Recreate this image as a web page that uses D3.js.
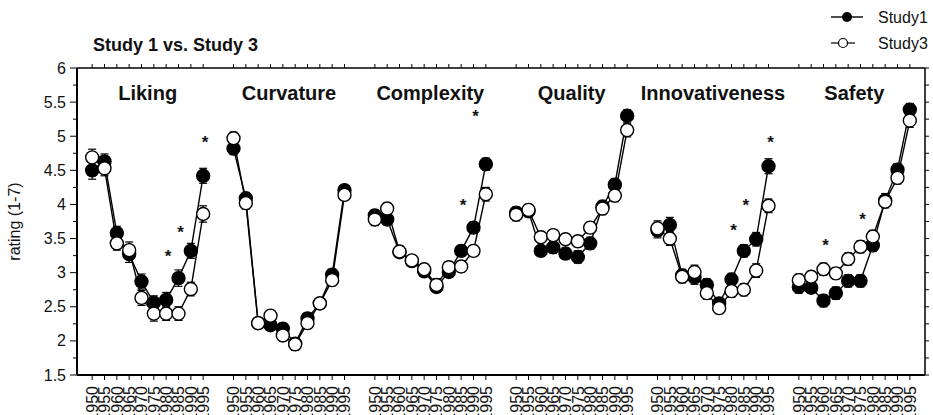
<!DOCTYPE html>
<html>
<head>
<meta charset="utf-8">
<script src="https://cdn.jsdelivr.net/npm/d3@7"></script>
<style>
  body { margin: 0; background: #fff; }
  text { font-family: "Liberation Sans", Arial, sans-serif; fill: #111; }
</style>
</head>
<body>
<div id="chart"></div>
<script>
// ratings per decade-year, one row per attribute
const years = [1950, 1955, 1960, 1965, 1970, 1975, 1980, 1985, 1990, 1995];
const panels = ["Liking", "Curvature", "Complexity", "Quality", "Innovativeness", "Safety"];

const study1 = [
    [4.50, 4.63, 3.58, 3.27, 2.87, 2.56, 2.60, 2.92, 3.32, 4.42],
    [4.82, 4.09, 2.26, 2.23, 2.18, 1.96, 2.33, 2.55, 2.97, 4.21],
    [3.84, 3.78, 3.30, 3.17, 3.02, 2.79, 3.01, 3.32, 3.66, 4.59],
    [3.88, 3.90, 3.32, 3.37, 3.28, 3.23, 3.43, 3.97, 4.29, 5.30],
    [3.62, 3.70, 2.96, 2.93, 2.82, 2.55, 2.90, 3.32, 3.49, 4.56],
    [2.79, 2.78, 2.59, 2.70, 2.88, 2.88, 3.40, 4.06, 4.51, 5.39]
];
const study3 = [
    [4.69, 4.53, 3.43, 3.33, 2.63, 2.40, 2.40, 2.40, 2.76, 3.86],
    [4.97, 4.02, 2.26, 2.37, 2.08, 1.95, 2.26, 2.55, 2.89, 4.14],
    [3.78, 3.94, 3.31, 3.18, 3.05, 2.82, 3.08, 3.09, 3.32, 4.15],
    [3.85, 3.92, 3.52, 3.55, 3.49, 3.46, 3.66, 3.94, 4.13, 5.09],
    [3.65, 3.50, 2.94, 3.01, 2.70, 2.48, 2.73, 2.75, 3.03, 3.98],
    [2.89, 2.94, 3.05, 2.99, 3.20, 3.38, 3.53, 4.04, 4.39, 5.23]
];
// standard errors
const study1Err = [
    [0.13, 0.11, 0.10, 0.12, 0.11, 0.10, 0.11, 0.12, 0.11, 0.11],
    [0.09, 0.08, 0.07, 0.07, 0.08, 0.08, 0.08, 0.07, 0.08, 0.07],
    [0.08, 0.08, 0.07, 0.07, 0.07, 0.08, 0.07, 0.08, 0.08, 0.09],
    [0.08, 0.08, 0.08, 0.08, 0.08, 0.09, 0.09, 0.08, 0.09, 0.09],
    [0.11, 0.11, 0.09, 0.10, 0.09, 0.08, 0.09, 0.09, 0.10, 0.11],
    [0.09, 0.08, 0.09, 0.09, 0.09, 0.09, 0.09, 0.10, 0.09, 0.09]
];
const study3Err = [
    [0.12, 0.11, 0.10, 0.12, 0.11, 0.11, 0.10, 0.10, 0.10, 0.12],
    [0.09, 0.09, 0.07, 0.07, 0.08, 0.09, 0.08, 0.07, 0.08, 0.08],
    [0.09, 0.08, 0.08, 0.07, 0.08, 0.09, 0.08, 0.08, 0.08, 0.10],
    [0.09, 0.08, 0.08, 0.08, 0.08, 0.08, 0.08, 0.09, 0.09, 0.10],
    [0.11, 0.10, 0.09, 0.10, 0.09, 0.08, 0.09, 0.09, 0.10, 0.10],
    [0.09, 0.08, 0.09, 0.08, 0.09, 0.09, 0.09, 0.09, 0.09, 0.10]
];
// significance markers: panel index, year, rating level
const starPanel = [0, 0, 0, 2, 2, 4, 4, 4, 5, 5];
const starYear = [1980, 1985, 1995, 1985, 1990, 1980, 1985, 1995, 1960, 1975];
const starValue = [3.29, 3.65, 4.97, 4.04, 5.34, 3.67, 4.04, 4.97, 3.45, 3.83];

const yTicks = [1.5, 2, 2.5, 3, 3.5, 4, 4.5, 5, 5.5, 6];
const seriesNames = ["Study1", "Study3"];

class PanelChart {

    constructor(parentElement){
        this.parentElement = parentElement
        this.initVis()
    }

    initVis(){
        let vis = this

        vis.margin = {top: 68, right: 8, bottom: 40, left: 77};
        vis.width = 933 - vis.margin.left - vis.margin.right;
        vis.height = 415 - vis.margin.top - vis.margin.bottom;

        vis.root = d3.select("#" + vis.parentElement).append("svg")
            .attr("width", 933)
            .attr("height", 415);
        vis.svg = vis.root.append("g")
            .attr("transform", "translate(" + vis.margin.left + "," + vis.margin.top + ")");

        // scales: one band per attribute, points for years inside it
        vis.xGroup = d3.scaleBand().domain(panels).range([0, vis.width]);
        vis.xYear = d3.scalePoint().domain(years)
            .range([0, vis.xGroup.bandwidth()]).padding(1.23);
        vis.yScale = d3.scaleLinear().domain([1.5, 6]).range([vis.height, 0]);

        vis.x = (p, yr) => vis.xGroup(p) + vis.xYear(yr);

        vis.drawAxes()
        vis.drawData()
        vis.drawText()
    }

    drawAxes(){
        let vis = this
        let minor = d3.range(1.5, 6.01, 0.25);

        // left axis
        let left = vis.svg.append("g").attr("class", "axis y-axis");
        left.append("line").attr("x1", 0).attr("x2", 0).attr("y1", 0).attr("y2", vis.height)
            .attr("stroke", "#000").attr("stroke-width", 2);
        left.selectAll(".minor").data(minor).join("line")
            .attr("x1", d => (d * 2) % 1 === 0 ? -7 : -4).attr("x2", 0)
            .attr("y1", d => vis.yScale(d)).attr("y2", d => vis.yScale(d))
            .attr("stroke", "#000").attr("stroke-width", 1);
        left.selectAll(".lab").data(yTicks).join("text")
            .attr("x", -11).attr("y", d => vis.yScale(d))
            .attr("dy", "0.35em")
            .attr("text-anchor", "end")
            .style("font-size", "16px")
            .text(d => d);

        // right axis
        let right = vis.svg.append("g").attr("class", "axis y-axis-right");
        right.append("line").attr("x1", vis.width).attr("x2", vis.width).attr("y1", 0).attr("y2", vis.height)
            .attr("stroke", "#000").attr("stroke-width", 1.5);
        right.selectAll("line.t").data(minor).join("line").attr("class", "t")
            .attr("x1", vis.width).attr("x2", vis.width + 4)
            .attr("y1", d => vis.yScale(d)).attr("y2", d => vis.yScale(d))
            .attr("stroke", "#000").attr("stroke-width", 1);

        // top and bottom lines
        vis.svg.append("line").attr("x1", 0).attr("x2", vis.width).attr("y1", 0).attr("y2", 0)
            .attr("stroke", "#000").attr("stroke-width", 1.5);
        vis.svg.append("line").attr("x1", 0).attr("x2", vis.width).attr("y1", vis.height).attr("y2", vis.height)
            .attr("stroke", "#000").attr("stroke-width", 2);

        panels.forEach(p => {
            let gx = vis.svg.append("g")
                .attr("class", "axis x-axis")
                .attr("transform", `translate(${vis.xGroup(p)},0)`);

            gx.selectAll("line.top").data(years).join("line").attr("class", "top")
                .attr("x1", d => vis.xYear(d)).attr("x2", d => vis.xYear(d))
                .attr("y1", 0).attr("y2", -4)
                .attr("stroke", "#000").attr("stroke-width", 1);
            gx.selectAll("line.bot").data(years).join("line").attr("class", "bot")
                .attr("x1", d => vis.xYear(d)).attr("x2", d => vis.xYear(d))
                .attr("y1", vis.height).attr("y2", vis.height + 5)
                .attr("stroke", "#000").attr("stroke-width", 1);
            gx.selectAll("text").data(years).join("text")
                .attr("transform", d => `translate(${vis.xYear(d)},${vis.height + 11}) rotate(-90)`)
                .attr("dy", "0.36em")
                .attr("text-anchor", "end")
                .style("font-size", "16px")
                .text(d => d);
        });
    }

    drawData(){
        let vis = this
        let line = d3.line().x(d => vis.x(d.panel, d.year)).y(d => vis.yScale(d.value));

        [study1, study3].forEach((series, s) => {
            let errs = s === 0 ? study1Err : study3Err;
            let g = vis.svg.append("g").attr("class", "series " + seriesNames[s]);

            panels.forEach((p, i) => {
                let rows = years.map((yr, j) => ({panel: p, year: yr, value: series[i][j], err: errs[i][j]}));

                g.append("path").datum(rows)
                    .attr("d", line)
                    .attr("fill", "none")
                    .attr("stroke", "#000")
                    .attr("stroke-width", 1.4);

                let eb = g.append("g").selectAll("g").data(rows).join("g");
                eb.append("line")
                    .attr("x1", d => vis.x(d.panel, d.year)).attr("x2", d => vis.x(d.panel, d.year))
                    .attr("y1", d => vis.yScale(d.value - d.err)).attr("y2", d => vis.yScale(d.value + d.err))
                    .attr("stroke", "#000").attr("stroke-width", 1.2);
                [-1, 1].forEach(sign => {
                    eb.append("line")
                        .attr("x1", d => vis.x(d.panel, d.year) - 4).attr("x2", d => vis.x(d.panel, d.year) + 4)
                        .attr("y1", d => vis.yScale(d.value + sign * d.err))
                        .attr("y2", d => vis.yScale(d.value + sign * d.err))
                        .attr("stroke", "#000").attr("stroke-width", 1.2);
                });

                g.append("g").selectAll("circle").data(rows).join("circle")
                    .attr("cx", d => vis.x(d.panel, d.year))
                    .attr("cy", d => vis.yScale(d.value))
                    .attr("r", 6.5)
                    .attr("fill", s === 0 ? "#000" : "#fff")
                    .attr("stroke", "#000")
                    .attr("stroke-width", 1.4);
            });
        });

        // significance stars
        vis.svg.append("g").selectAll("text").data(starYear).join("text")
            .attr("x", (d, i) => vis.x(panels[starPanel[i]], d) + 2)
            .attr("y", (d, i) => vis.yScale(starValue[i]))
            .attr("dy", "0.55em")
            .attr("text-anchor", "middle")
            .style("font-size", "17px")
            .style("font-weight", "bold")
            .text("*");
    }

    drawText(){
        let vis = this

        // panel titles
        vis.svg.selectAll(".panel-title").data(panels).join("text")
            .attr("class", "panel-title")
            .attr("x", d => vis.xGroup(d) + vis.xGroup.bandwidth() / 2)
            .attr("y", 32)
            .attr("text-anchor", "middle")
            .style("font-size", "20px")
            .style("font-weight", "bold")
            .text(d => d);

        // chart title
        vis.root.append("text")
            .attr("x", 93).attr("y", 51)
            .style("font-size", "18px")
            .style("font-weight", "bold")
            .text("Study 1 vs. Study 3");

        // y label
        vis.root.append("text")
            .attr("transform", `translate(20,${vis.margin.top + vis.height / 2}) rotate(-90)`)
            .attr("text-anchor", "middle")
            .style("font-size", "16px")
            .text("rating (1-7)");

        // legend
        let legY = [17, 43];
        let leg = vis.root.append("g").attr("class", "legend");
        seriesNames.forEach((name, s) => {
            let row = leg.append("g").attr("transform", `translate(0,${legY[s]})`);
            if (s === 0) {
                row.append("line").attr("x1", 831).attr("x2", 863).attr("stroke", "#000").attr("stroke-width", 1.4);
                row.append("circle").attr("cx", 847).attr("r", 5).attr("fill", "#000");
            } else {
                row.append("line").attr("x1", 831).attr("x2", 855).attr("stroke", "#000").attr("stroke-width", 1.2);
                row.append("circle").attr("cx", 843).attr("r", 4.5).attr("fill", "#fff")
                    .attr("stroke", "#000").attr("stroke-width", 1.2);
            }
            row.append("text").attr("x", 878).attr("dy", "0.35em")
                .style("font-size", "16px")
                .text(name);
        });
    }
}

new PanelChart("chart");
</script>
</body>
</html>
